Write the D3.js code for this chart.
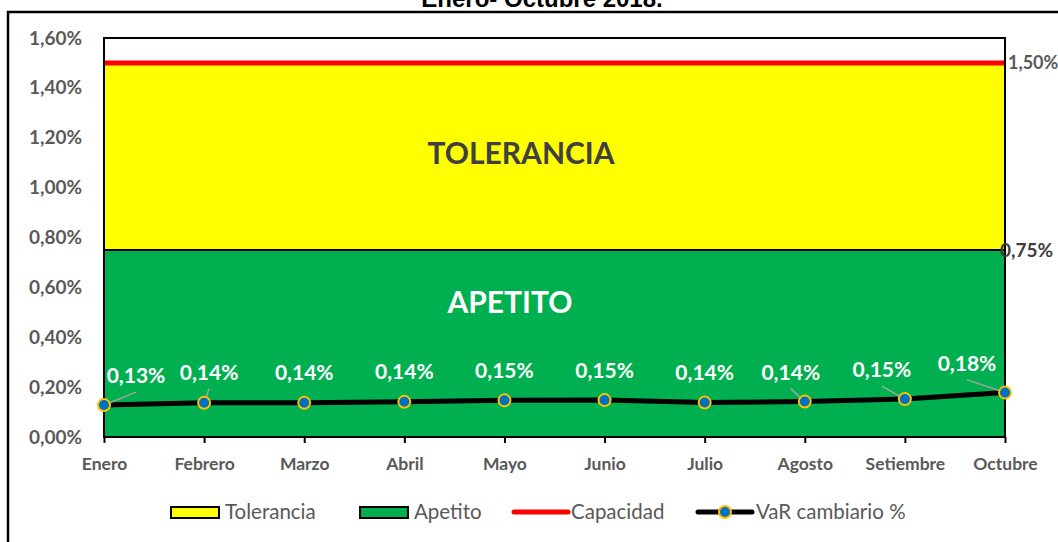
<!DOCTYPE html>
<html>
<head>
<meta charset="utf-8">
<script src="https://cdn.jsdelivr.net/npm/d3@7"></script>
<style>
  body { margin: 0; background: #fff; }
  svg { display: block; }
</style>
</head>
<body>
<div id="chart"></div>
<script>
// data
const months = ["Enero", "Febrero", "Marzo", "Abril", "Mayo", "Junio", "Julio", "Agosto", "Setiembre", "Octubre"];
const varCambiario = [0.128, 0.137, 0.137, 0.141, 0.147, 0.148, 0.138, 0.142, 0.152, 0.178];
const apetito = 0.75;
const tolerancia = 1.5;
const capacidad = 1.5;
const yTicks = [0, 0.2, 0.4, 0.6, 0.8, 1.0, 1.2, 1.4, 1.6];

// label offsets from each point (layout only)
const labelDx = [32, 5, 0, 0, 0, 0, 0, -14, -23, -38];
const labelDy = [-29, -30, -30, -30, -30, -29, -30, -29, -29, -29];

const W = 1058, H = 542;
const plot = { left: 104, right: 1005, top: 38, bottom: 437 };
const font = "Lato, 'Open Sans', sans-serif";
const grey = "#595959";

const fmt = (v) => d3.format(".2f")(v).replace(".", ",") + "%";

const svg = d3.select("#chart").append("svg")
  .attr("width", W).attr("height", H);

// outer chart border
svg.append("rect")
  .attr("x", 8).attr("y", 12)
  .attr("width", 1200).attr("height", 700)
  .attr("fill", "#fff").attr("stroke", "#000").attr("stroke-width", 2.5);

// title, cut off at the top like the reference
svg.append("text")
  .attr("x", 542).attr("y", 7)
  .attr("text-anchor", "middle")
  .style("font-family", "'Liberation Sans', Arial, sans-serif")
  .style("font-weight", "bold").style("font-size", "24px")
  .text("Enero- Octubre 2018.");

const x = d3.scalePoint().domain(months).range([plot.left, plot.right]);
const y = d3.scaleLinear().domain([0, 1.6]).range([plot.bottom, plot.top]);

// bands
svg.append("rect")
  .attr("x", plot.left).attr("width", plot.right - plot.left)
  .attr("y", y(tolerancia)).attr("height", y(apetito) - y(tolerancia))
  .attr("fill", "#FFFF00");
svg.append("rect")
  .attr("x", plot.left).attr("width", plot.right - plot.left)
  .attr("y", y(apetito)).attr("height", y(0) - y(apetito))
  .attr("fill", "#00B050");
svg.append("line")
  .attr("x1", plot.left).attr("x2", plot.right)
  .attr("y1", y(apetito)).attr("y2", y(apetito))
  .attr("stroke", "#000").attr("stroke-width", 2);

// capacity line
svg.append("line")
  .attr("x1", plot.left).attr("x2", plot.right)
  .attr("y1", y(capacidad)).attr("y2", y(capacidad))
  .attr("stroke", "#FF0000").attr("stroke-width", 5);

// plot border
svg.append("rect")
  .attr("x", plot.left).attr("y", plot.top)
  .attr("width", plot.right - plot.left).attr("height", plot.bottom - plot.top)
  .attr("fill", "none").attr("stroke", "#000").attr("stroke-width", 2);

// band names
svg.append("text")
  .attr("x", 521).attr("y", 164)
  .attr("text-anchor", "middle")
  .style("font-family", font).style("font-weight", "bold").style("font-size", "30px")
  .attr("fill", "#404040")
  .text("TOLERANCIA");
svg.append("text")
  .attr("x", 510).attr("y", 313)
  .attr("text-anchor", "middle")
  .style("font-family", font).style("font-weight", "bold").style("font-size", "30px")
  .attr("fill", "#fff")
  .text("APETITO");

// y axis
const gy = svg.append("g")
  .attr("transform", `translate(${plot.left},0)`)
  .call(d3.axisLeft(y).tickValues(yTicks).tickSize(0).tickPadding(22).tickFormat(fmt))
  .call((g) => g.select(".domain").remove());
gy.selectAll("text")
  .style("font-family", font).style("font-weight", "bold").style("font-size", "19px")
  .attr("fill", grey);

// x axis
const gx = svg.append("g")
  .attr("transform", `translate(0,${plot.bottom})`)
  .call(d3.axisBottom(x).tickSize(6).tickPadding(15))
  .call((g) => g.select(".domain").remove());
gx.selectAll("line").attr("stroke", "#000").attr("stroke-width", 2);
gx.selectAll("text")
  .style("font-family", font).style("font-weight", "bold").style("font-size", "17.5px")
  .attr("fill", grey);

// right side labels
svg.append("text")
  .attr("x", plot.right + 3).attr("y", y(capacidad)).attr("dy", "0.35em")
  .style("font-family", font).style("font-weight", "bold").style("font-size", "18px")
  .attr("fill", grey).text(fmt(capacidad));
svg.append("text")
  .attr("x", plot.right - 5).attr("y", y(apetito)).attr("dy", "0.35em")
  .style("font-family", font).style("font-weight", "bold").style("font-size", "19px")
  .attr("fill", "#404040").text(fmt(apetito));

// VaR line
const pts = months.map((m, i) => ({ m: m, v: varCambiario[i], i: i }));
svg.append("path")
  .datum(pts)
  .attr("d", d3.line().x((d) => x(d.m)).y((d) => y(d.v)))
  .attr("fill", "none").attr("stroke", "#000").attr("stroke-width", 5)
  .attr("stroke-linejoin", "round");

// leader lines for moved labels
svg.append("g").selectAll("line")
  .data(pts.filter((d) => Math.abs(labelDx[d.i]) > 3))
  .join("line")
  .attr("x1", (d) => x(d.m))
  .attr("y1", (d) => y(d.v))
  .attr("x2", (d) => x(d.m) + labelDx[d.i])
  .attr("y2", (d) => y(d.v) + labelDy[d.i] + 16)
  .attr("stroke", "#A6A6A6").attr("stroke-width", 1.5);

svg.append("g").selectAll("circle")
  .data(pts)
  .join("circle")
  .attr("cx", (d) => x(d.m)).attr("cy", (d) => y(d.v))
  .attr("r", 6)
  .attr("fill", "#0070C0").attr("stroke", "#FFC000").attr("stroke-width", 2);

svg.append("g").selectAll("text")
  .data(pts)
  .join("text")
  .attr("x", (d) => x(d.m) + labelDx[d.i])
  .attr("y", (d) => y(d.v) + labelDy[d.i])
  .attr("dy", "0.35em")
  .attr("text-anchor", "middle")
  .style("font-family", font).style("font-weight", "bold").style("font-size", "21px")
  .attr("fill", "#fff")
  .text((d) => fmt(d.v));

// legend
const legend = svg.append("g").attr("transform", "translate(0,512)");
const legendItems = [
  { name: "Tolerancia", type: "rect", color: "#FFFF00", x: 171, tx: 225 },
  { name: "Apetito", type: "rect", color: "#00B050", x: 360, tx: 414 },
  { name: "Capacidad", type: "line", color: "#FF0000", x: 514, tx: 571 },
  { name: "VaR cambiario %", type: "marker", color: "#000", x: 698, tx: 756 }
];
legendItems.forEach((d) => {
  if (d.type === "rect") {
    legend.append("rect")
      .attr("x", d.x).attr("y", -5).attr("width", 48).attr("height", 11)
      .attr("fill", d.color).attr("stroke", "#000").attr("stroke-width", 2);
  } else {
    legend.append("line")
      .attr("x1", d.x).attr("x2", d.x + 54).attr("y1", 0).attr("y2", 0)
      .attr("stroke", d.color).attr("stroke-width", 5).attr("stroke-linecap", "round");
    if (d.type === "marker") {
      legend.append("circle")
        .attr("cx", d.x + 27).attr("cy", 0).attr("r", 6)
        .attr("fill", "#0070C0").attr("stroke", "#FFC000").attr("stroke-width", 2);
    }
  }
  legend.append("text")
    .attr("x", d.tx).attr("y", 0).attr("dy", "0.35em")
    .style("font-family", font).style("font-size", "20.5px")
    .attr("fill", grey)
    .text(d.name);
});
</script>
</body>
</html>
